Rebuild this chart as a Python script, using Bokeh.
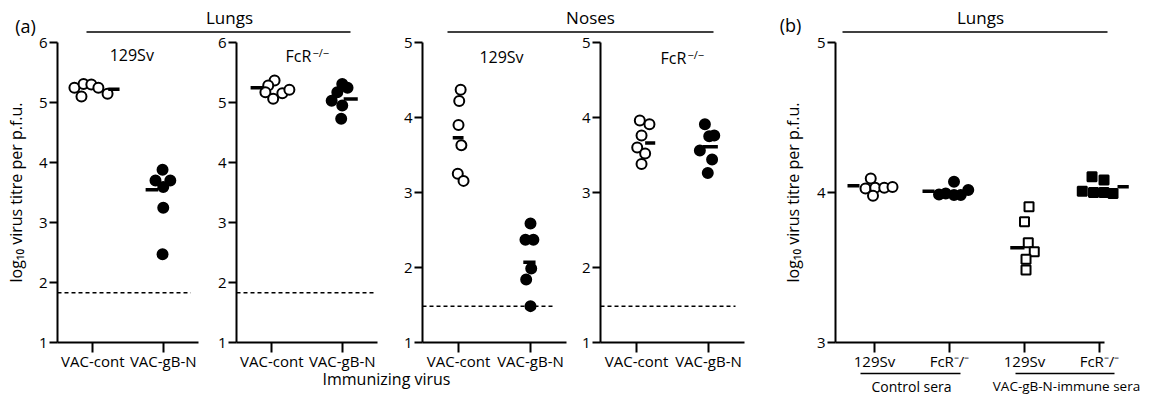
from bokeh.plotting import figure
from bokeh.layouts import row
from bokeh.models import Range1d, FixedTicker, Label, GridBox
from bokeh.embed import file_html
from bokeh.resources import INLINE

FONT = "Open Sans"

# ---------------- data (log10 virus titre per p.f.u.) ----------------
categories_a = ["VAC-cont", "VAC-gB-N"]
categories_b = ["129Sv", "FcR\u207b/\u207b", "129Sv", "FcR\u207b/\u207b"]

lungs_129_cont = [5.245, 5.31, 5.30, 5.10, 5.245, 5.145]
lungs_129_gbn = [3.88, 3.70, 3.70, 3.59, 3.245, 2.47]
lungs_fcr_cont = [5.367, 5.283, 5.172, 5.062, 5.155, 5.212]
lungs_fcr_gbn = [5.31, 5.245, 5.17, 5.03, 4.95, 4.73]
noses_129_cont = [4.37, 4.22, 3.90, 3.63, 3.25, 3.155]
noses_129_gbn = [2.587, 2.37, 2.37, 1.987, 1.84, 1.485]
noses_fcr_cont = [3.96, 3.91, 3.76, 3.60, 3.52, 3.38]
noses_fcr_gbn = [3.91, 3.75, 3.76, 3.56, 3.44, 3.26]

means_lungs_129 = [5.22, 3.545]
means_lungs_fcr = [5.245, 5.06]
means_noses_129 = [3.73, 2.07]
means_noses_fcr = [3.66, 3.61]

limit_lungs = 1.83
limit_noses = 1.485

b_ctrl_129 = [4.093, 4.027, 4.031, 3.978, 4.031, 4.036]
b_ctrl_fcr = [4.071, 3.987, 3.993, 3.983, 3.983, 4.016]
b_imm_129 = [3.905, 3.805, 3.665, 3.605, 3.555, 3.483]
b_imm_fcr = [4.105, 4.083, 4.009, 4.000, 4.000, 3.993]
means_b = [4.045, 4.009, 3.631, 4.038]

# ---------------- horizontal spread of the dots (layout only) ----------------
spread = {
    "l129c": [-0.26, -0.13, -0.02, -0.16, 0.08, 0.21],
    "l129g": [-0.01, -0.11, 0.10, 0.0, 0.0, -0.01],
    "lfcrc": [0.04, -0.05, -0.09, 0.02, 0.15, 0.25],
    "lfcrg": [0.0, 0.075, -0.07, -0.15, 0.0, -0.015],
    "n129c": [0.03, 0.01, 0.0, 0.04, -0.01, 0.07],
    "n129g": [0.0, -0.07, 0.04, 0.01, -0.06, 0.0],
    "nfcrc": [0.046, 0.18, 0.07, 0.01, 0.12, 0.07],
    "nfcrg": [-0.05, 0.01, 0.08, -0.12, 0.05, -0.01],
    "b1": [-0.05, -0.12, 0.01, -0.02, 0.13, 0.24],
    "b2": [0.06, -0.14, -0.05, 0.06, 0.15, 0.25],
    "b3": [0.06, 0.0, 0.05, 0.13, 0.02, 0.02],
    "b4": [-0.10, 0.06, -0.23, -0.08, 0.06, 0.18],
}
bar_offsets = {
    "l129": [(0.22, 0.38), (-0.25, -0.07)],
    "lfcr": [(-0.30, -0.12), (0.02, 0.22)],
    "n129": [(-0.08, 0.07), (-0.10, 0.07)],
    "nfcr": [(0.12, 0.26), (-0.08, 0.13)],
    "b": [(-0.36, -0.20), (-0.36, -0.20), (-0.19, 0.0), (0.24, 0.39)],
}

YLABEL = "log\u2081\u2080 virus titre per p.f.u."


def style_axes(p, yticks, xticks, xlabels, ylabel=None, ystand=5):
    p.grid.visible = False
    p.outline_line_color = None
    for ax in p.yaxis:
        ax.ticker = FixedTicker(ticks=yticks)
        ax.minor_tick_line_color = None
        ax.axis_line_width = 2
        ax.major_tick_line_width = 2
        ax.major_tick_out = 8
        ax.major_tick_in = 0
        ax.major_label_standoff = 2
        ax.major_label_text_font = FONT
        ax.major_label_text_font_size = "15px"
        ax.major_label_text_color = "black"
        ax.axis_line_color = "black"
        ax.major_tick_line_color = "black"
        if ylabel:
            ax.axis_label = ylabel
            ax.axis_label_text_font = FONT
            ax.axis_label_text_font_size = "16px"
            ax.axis_label_text_font_style = "normal"
            ax.axis_label_text_color = "black"
            ax.axis_label_standoff = ystand
    for ax in p.xaxis:
        ax.ticker = FixedTicker(ticks=xticks)
        ax.major_label_overrides = {t: l for t, l in zip(xticks, xlabels)}
        ax.minor_tick_line_color = None
        ax.axis_line_width = 2
        ax.major_tick_line_width = 2
        ax.major_tick_out = 10
        ax.major_tick_in = 0
        ax.major_label_standoff = -2
        ax.major_label_text_font = FONT
        ax.major_label_text_font_size = "15px"
        ax.major_label_text_color = "black"
        ax.axis_line_color = "black"
        ax.major_tick_line_color = "black"


def make_panel(fw, bl, br, yr, bt=42, bb=30, xr=(0.5, 2.5)):
    p = figure(frame_width=fw, frame_height=300, x_range=Range1d(*xr), y_range=Range1d(*yr),
               output_backend="svg", toolbar_location=None,
               min_border_left=bl, min_border_right=br, min_border_top=bt, min_border_bottom=bb)
    return p


def dots(p, cat, vals, offs, filled, marker="circle", size=10):
    xs = [cat + o for o in offs]
    p.scatter(xs, vals, marker=marker, size=size, line_color="black", line_width=2,
              fill_color="black" if filled else "white")


def bars(p, cats, means, offs):
    p.segment(x0=[c + o[0] for c, o in zip(cats, offs)], x1=[c + o[1] for c, o in zip(cats, offs)],
              y0=means, y1=means, line_color="black", line_width=3.5)


def limit(p, y, x1):
    p.segment(x0=[0.5], x1=[x1], y0=[y], y1=[y], line_color="black", line_width=1.5, line_dash="4 3")


def panel_label(p, x, y, main, sup=None, supoff=27):
    p.add_layout(Label(x=x, y=y, text=main, text_font=FONT, text_font_size="16px",
                       text_align="left", text_baseline="middle", text_color="black"))
    if sup:
        p.add_layout(Label(x=x, y=y, x_offset=supoff, y_offset=4, text=sup, text_font=FONT,
                           text_font_size="11px", text_align="left", text_baseline="middle",
                           text_color="black"))


cats = [1, 2]

# Panel 1: lungs 129Sv
p1 = make_panel(141, 57, 14, (1, 6))
limit(p1, limit_lungs, 2.39)
dots(p1, 1, lungs_129_cont, spread["l129c"], False)
dots(p1, 2, lungs_129_gbn, spread["l129g"], True)
bars(p1, cats, means_lungs_129, bar_offsets["l129"])
panel_label(p1, 1.24, 5.8, "129Sv")
style_axes(p1, [1, 2, 3, 4, 5, 6], cats, categories_a, YLABEL, 9)

# Panel 2: lungs FcR-/-
p2 = make_panel(141, 24, 9, (1, 6))
limit(p2, limit_lungs, 2.47)
dots(p2, 1, lungs_fcr_cont, spread["lfcrc"], False)
dots(p2, 2, lungs_fcr_gbn, spread["lfcrg"], True)
bars(p2, cats, means_lungs_fcr, bar_offsets["lfcr"])
panel_label(p2, 1.195, 5.77, "FcR", "\u2212/\u2212")
style_axes(p2, [1, 2, 3, 4, 5, 6], cats, categories_a)

# Panel 3: noses 129Sv
p3 = make_panel(144, 36, 12, (1, 5))
limit(p3, limit_noses, 2.32)
dots(p3, 1, noses_129_cont, spread["n129c"], False)
dots(p3, 2, noses_129_gbn, spread["n129g"], True)
bars(p3, cats, means_noses_129, bar_offsets["n129"])
panel_label(p3, 1.29, 4.81, "129Sv")
style_axes(p3, [1, 2, 3, 4, 5], cats, categories_a)

# Panel 4: noses FcR-/-
p4 = make_panel(144, 20, 12, (1, 5))
limit(p4, limit_noses, 2.375)
dots(p4, 1, noses_fcr_cont, spread["nfcrc"], False)
dots(p4, 2, noses_fcr_gbn, spread["nfcrg"], True)
bars(p4, cats, means_noses_fcr, bar_offsets["nfcr"])
panel_label(p4, 1.333, 4.79, "FcR", "\u2212/\u2212")
style_axes(p4, [1, 2, 3, 4, 5], cats, categories_a)

# Panel b
cats_b = [1, 2, 3, 4]
pb = make_panel(298, 79, 22, (3, 5), bt=41, bb=31, xr=(0.48, 4.453))
dots(pb, 1, b_ctrl_129, spread["b1"], False)
dots(pb, 2, b_ctrl_fcr, spread["b2"], True)
dots(pb, 3, b_imm_129, spread["b3"], False, marker="square", size=9)
dots(pb, 4, b_imm_fcr, spread["b4"], True, marker="square", size=9)
bars(pb, cats_b, means_b, bar_offsets["b"])
style_axes(pb, [3, 4, 5], cats_b, categories_b, YLABEL, 10)
pb.xaxis[0].bounds = (0.48, 4.06)

# ---------------- transparent overlay for headings and group labels (page pixels) ----------------
ov = figure(width=1153, height=396, x_range=Range1d(0, 1153), y_range=Range1d(396, 0),
            x_axis_type=None, y_axis_type=None,
            output_backend="svg", toolbar_location=None, min_border=0,
            min_border_left=0, min_border_right=0, min_border_top=0, min_border_bottom=0)
ov.grid.visible = False
ov.outline_line_color = None
ov.background_fill_color = None
ov.border_fill_color = None


def txt(x, y, t, size):
    ov.add_layout(Label(x=x, y=y, text=t, text_font=FONT, text_font_size=size, text_align="center",
                        text_baseline="middle", text_color="black"))


txt(25, 25, "(a)", "18px")
txt(229, 17, "Lungs", "17px")
txt(590, 17, "Noses", "17px")
txt(790, 24, "(b)", "18px")
txt(980, 17, "Lungs", "17px")
ov.segment(x0=[86, 447, 842], x1=[350, 713, 1107], y0=[31.5] * 3, y1=[31.5] * 3,
           line_color="black", line_width=1.5)

txt(386, 378, "Immunizing virus", "16px")
ov.segment(x0=[860, 1015], x1=[960, 1114], y0=[373] * 2, y1=[373] * 2,
           line_color="black", line_width=1.5)
txt(911, 385.5, "Control sera", "14px")
txt(1066, 385.5, "VAC-gB-N-immune sera", "13.5px")

panels = row(p1, p2, p3, p4, pb)
layout = GridBox(children=[(panels, 0, 0), (ov, 0, 0)])
open("out.html", "w").write(file_html(layout, INLINE))
